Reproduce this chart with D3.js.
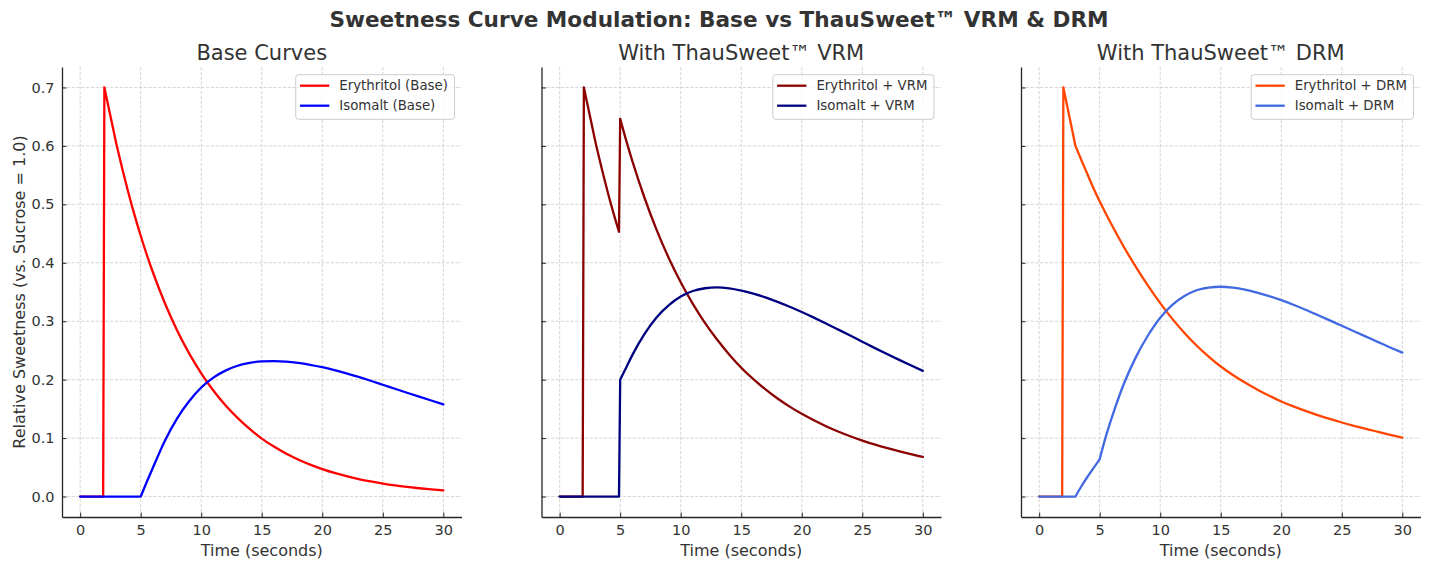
<!DOCTYPE html>
<html>
<head>
<meta charset="utf-8">
<script src="https://cdn.jsdelivr.net/npm/d3@7"></script>
<style>
  body { margin: 0; background: #ffffff; }
  svg { display: block; font-family: "DejaVu Sans", sans-serif; }
</style>
</head>
<body>
<svg id="chart" width="1430" height="569"></svg>
<script>
// ---------- data ----------
const seconds = [0, 1, 1.9, 2, 3, 3.5, 4, 4.5, 4.9, 5, 5.5,
  6, 7, 8, 9, 10, 11, 12, 13, 14, 15, 16, 17, 18, 19, 20,
  21, 22, 23, 24, 25, 26, 27, 28, 29, 30];

const erythritolBase = [0, 0, 0, 0.700, 0.6025, 0.559, 0.5186, 0.481, 0.4531, 0.4463, 0.414,
  0.3842, 0.3307, 0.2846, 0.2450, 0.2109, 0.1815, 0.1562, 0.1345, 0.1157, 0.0990, 0.0855, 0.0736, 0.0634, 0.0546, 0.0470,
  0.0405, 0.0349, 0.0300, 0.0258, 0.0222, 0.0191, 0.0165, 0.0142, 0.0122, 0.0105];

const isomaltBase = [0, 0, 0, 0, 0, 0, 0, 0, 0, 0, 0.025,
  0.049, 0.0955, 0.1335, 0.163, 0.1865, 0.2035, 0.2155, 0.2238, 0.2288, 0.2312, 0.2318, 0.2310, 0.2288, 0.2255, 0.2213,
  0.2163, 0.2107, 0.2046, 0.1981, 0.1913, 0.1844, 0.1776, 0.1709, 0.1643, 0.1578];

const erythritolVRM = [0, 0, 0, 0.700, 0.6025, 0.559, 0.5186, 0.481, 0.4531, 0.6463, 0.609,
  0.5744, 0.5117, 0.4567, 0.4087, 0.3667, 0.3297, 0.2971, 0.2686, 0.2432, 0.2205, 0.2009, 0.1834, 0.1678, 0.1539, 0.1415,
  0.1304, 0.1204, 0.1113, 0.1032, 0.0958, 0.0891, 0.0831, 0.0776, 0.0725, 0.0678];

const isomaltVRM = [0, 0, 0, 0, 0, 0, 0, 0, 0, 0.200, 0.221,
  0.242, 0.278, 0.3065, 0.3272, 0.3423, 0.3517, 0.3564, 0.3579, 0.3563, 0.3525, 0.3472, 0.3408, 0.3332, 0.3248, 0.3158,
  0.3062, 0.2962, 0.2859, 0.2755, 0.2649, 0.2544, 0.2442, 0.2343, 0.2246, 0.2151];

const erythritolDRM = [0, 0, 0, 0.700, 0.600, 0.575, 0.551, 0.527, 0.509, 0.505, 0.4845,
  0.4645, 0.427, 0.3925, 0.3605, 0.331, 0.304, 0.280, 0.2585, 0.2395, 0.2225, 0.208, 0.195, 0.1832, 0.1725, 0.1627,
  0.1542, 0.1465, 0.1394, 0.1328, 0.1267, 0.1211, 0.1158, 0.1107, 0.1057, 0.1008];

const isomaltDRM = [0, 0, 0, 0, 0, 0.018, 0.034, 0.049, 0.061, 0.064, 0.102,
  0.135, 0.193, 0.239, 0.276, 0.306, 0.328, 0.343, 0.353, 0.3575, 0.359, 0.3575, 0.354, 0.349, 0.343, 0.336,
  0.3282, 0.3197, 0.3107, 0.3015, 0.2922, 0.2829, 0.2736, 0.2643, 0.2551, 0.2462];

// times where the curves have sharp corners (onsets / modulation kicks)
const cornerTimes = [1.9, 2, 3, 4.9, 5];

const xTicks = [0, 5, 10, 15, 20, 25, 30];
const yTicks = [0.0, 0.1, 0.2, 0.3, 0.4, 0.5, 0.6, 0.7];

const chartTitle = "Sweetness Curve Modulation: Base vs ThauSweet™ VRM & DRM";
const panelTitles = ["Base Curves", "With ThauSweet™ VRM", "With ThauSweet™ DRM"];
const seriesNames = [
  ["Erythritol (Base)", "Isomalt (Base)"],
  ["Erythritol + VRM", "Isomalt + VRM"],
  ["Erythritol + DRM", "Isomalt + DRM"]
];
const seriesColors = [
  ["#ff0000", "#0000ff"],
  ["#8b0000", "#000080"],
  ["#ff4500", "#4169e1"]
];
const seriesValues = [
  [erythritolBase, isomaltBase],
  [erythritolVRM, isomaltVRM],
  [erythritolDRM, isomaltDRM]
];
const xLabel = "Time (seconds)";
const yLabel = "Relative Sweetness (vs. Sucrose = 1.0)";

// ---------- layout ----------
const svg = d3.select("#chart");
svg.append("rect").attr("width", 1430).attr("height", 569).attr("fill", "#ffffff");

const panelLeft = [62, 541.5, 1021];
const panelWidth = 399.5;
const plotTop = 67, plotBottom = 517;
const textColor = "#333333";

svg.append("text")
  .attr("x", 719).attr("y", 26.5)
  .attr("text-anchor", "middle")
  .attr("font-size", "21.6px").attr("font-weight", "bold")
  .attr("fill", textColor)
  .text(chartTitle);

panelTitles.forEach((title, p) => {
  const left = panelLeft[p], right = left + panelWidth;
  const x = d3.scaleLinear().domain([-1.5, 31.5]).range([left, right]);
  const y = d3.scaleLinear().domain([-0.035, 0.735]).range([plotBottom, plotTop]);
  const g = svg.append("g");

  // grid
  g.append("g").selectAll("line").data(xTicks).join("line")
    .attr("x1", d => x(d)).attr("x2", d => x(d))
    .attr("y1", plotTop).attr("y2", plotBottom)
    .attr("stroke", "#cccccc").attr("stroke-width", 0.8)
    .attr("stroke-dasharray", "3.2,1.6");
  g.append("g").selectAll("line").data(yTicks).join("line")
    .attr("x1", left).attr("x2", right)
    .attr("y1", d => y(d)).attr("y2", d => y(d))
    .attr("stroke", "#cccccc").attr("stroke-width", 0.8)
    .attr("stroke-dasharray", "3.2,1.6");

  // series: smooth runs between sharp corners
  const gen = d3.line()
    .x(d => x(d[0]))
    .y(d => y(d[1]))
    .curve(d3.curveMonotoneX);
  const pathFor = vals => {
    const runs = [];
    let cur = [];
    seconds.forEach((t, i) => {
      const pt = [t, vals[i]];
      cur.push(pt);
      if (cornerTimes.includes(t)) {
        if (cur.length > 1) runs.push(cur);
        cur = [pt];
      }
    });
    if (cur.length > 1) runs.push(cur);
    return runs.map(r => gen(r)).join("");
  };
  seriesValues[p].forEach((vals, s) => {
    g.append("path")
      .attr("d", pathFor(vals))
      .attr("fill", "none")
      .attr("stroke", seriesColors[p][s])
      .attr("stroke-width", 2.3)
      .attr("stroke-linejoin", "round")
      .attr("stroke-linecap", "round");
  });

  // axes
  const xAxis = d3.axisBottom(x).tickValues(xTicks).tickFormat(d3.format("d"))
    .tickSizeInner(-4.5).tickSizeOuter(0).tickPadding(7.5);
  const yAxis = d3.axisLeft(y).tickValues(yTicks)
    .tickFormat(p === 0 ? d3.format(".1f") : () => "")
    .tickSizeInner(-4.5).tickSizeOuter(0).tickPadding(7.5);

  const gx = g.append("g").attr("transform", `translate(0,${plotBottom})`).call(xAxis);
  const gy = g.append("g").attr("transform", `translate(${left},0)`).call(yAxis);
  [gx, gy].forEach(ax => {
    ax.select(".domain").attr("stroke", "#262626").attr("stroke-width", 1.3);
    ax.selectAll(".tick line").attr("stroke", "#262626").attr("stroke-width", 1);
    ax.selectAll(".tick text").attr("fill", textColor)
      .attr("font-size", "14.5px").attr("font-family", "DejaVu Sans, sans-serif");
  });

  // panel title
  g.append("text")
    .attr("x", (left + right) / 2).attr("y", 60)
    .attr("text-anchor", "middle")
    .attr("font-size", "21px").attr("fill", textColor)
    .text(title);

  // x label
  g.append("text")
    .attr("x", (left + right) / 2).attr("y", 555.5)
    .attr("text-anchor", "middle")
    .attr("font-size", "16px").attr("fill", textColor)
    .text(xLabel);

  if (p === 0) {
    g.append("text")
      .attr("transform", `translate(24.5,${(plotTop + plotBottom) / 2}) rotate(-90)`)
      .attr("text-anchor", "middle")
      .attr("font-size", "16px").attr("fill", textColor)
      .text(yLabel);
  }

  // legend
  const lg = g.append("g");
  const box = lg.append("rect");
  const texts = seriesNames[p].map((name, s) =>
    lg.append("text").attr("font-size", "13.3px").attr("fill", textColor)
      .attr("dy", "0.35em").text(name));
  const maxW = d3.max(texts, t => t.node().getComputedTextLength());
  const boxW = 43.6 + maxW + 6.6;
  const boxLeft = right - 7 - boxW;
  const boxTop = 74.7;
  box.attr("x", boxLeft).attr("y", boxTop).attr("width", boxW).attr("height", 44.6)
    .attr("rx", 3).attr("fill", "#ffffff").attr("fill-opacity", 0.8)
    .attr("stroke", "#cccccc").attr("stroke-width", 1);
  seriesNames[p].forEach((name, s) => {
    const cy = boxTop + 11 + s * 20;
    lg.append("line")
      .attr("x1", boxLeft + 4.3).attr("x2", boxLeft + 33.6)
      .attr("y1", cy).attr("y2", cy)
      .attr("stroke", seriesColors[p][s]).attr("stroke-width", 2.3);
    texts[s].attr("x", boxLeft + 43.6).attr("y", cy);
  });
});
</script>
</body>
</html>
